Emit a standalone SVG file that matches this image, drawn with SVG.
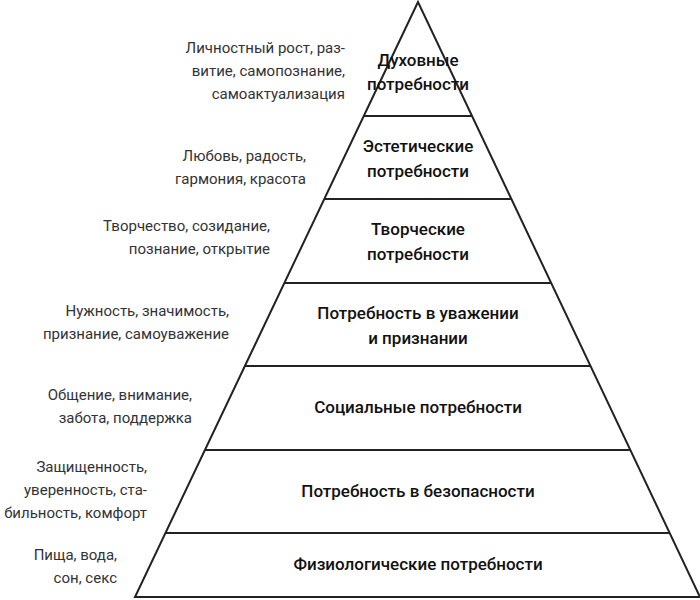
<svg xmlns="http://www.w3.org/2000/svg" width="700" height="600" viewBox="0 0 700 600">
<style>
.l{stroke:#222;stroke-width:2;fill:none}
.t{font-family:Roboto,"Noto Sans",sans-serif;font-size:17px;font-weight:500;fill:#111;text-anchor:middle}
.s{font-family:Roboto,"Noto Sans",sans-serif;font-size:15px;fill:#333;text-anchor:end}
</style>
<rect width="700" height="600" fill="#fff"/>
<g id="connectors">
<polygon class="l" points="418,2 135,597 700,597"/>
<line class="l" x1="364" y1="116" x2="472" y2="116"/>
<line class="l" x1="324" y1="199" x2="511" y2="199"/>
<line class="l" x1="284" y1="283" x2="551" y2="283"/>
<line class="l" x1="245" y1="366" x2="590" y2="366"/>
<line class="l" x1="205" y1="450" x2="630" y2="450"/>
<line class="l" x1="166" y1="533" x2="669" y2="533"/>
</g>
<g id="n1"><text class="t" x="418" y="66">Духовные</text><text class="t" x="418" y="90">потребности</text>
<text class="s" x="345" y="53">Личностный рост, раз-</text><text class="s" x="345" y="76">витие, самопознание,</text><text class="s" x="345" y="99">самоактуализация</text></g>
<g id="n2"><text class="t" x="418" y="152">Эстетические</text><text class="t" x="418" y="177">потребности</text>
<text class="s" x="306" y="161">Любовь, радость,</text><text class="s" x="306" y="184">гармония, красота</text></g>
<g id="n3"><text class="t" x="418" y="235">Творческие</text><text class="t" x="418" y="260">потребности</text>
<text class="s" x="270" y="231">Творчество, созидание,</text><text class="s" x="270" y="254">познание, открытие</text></g>
<g id="n4"><text class="t" x="418" y="319">Потребность в уважении</text><text class="t" x="418" y="344">и признании</text>
<text class="s" x="229" y="316">Нужность, значимость,</text><text class="s" x="229" y="339">признание, самоуважение</text></g>
<g id="n5"><text class="t" x="418" y="413">Социальные потребности</text>
<text class="s" x="192" y="400">Общение, внимание,</text><text class="s" x="192" y="423">забота, поддержка</text></g>
<g id="n6"><text class="t" x="418" y="497">Потребность в безопасности</text>
<text class="s" x="147" y="472">Защищенность,</text><text class="s" x="147" y="495">уверенность, ста-</text><text class="s" x="147" y="518">бильность, комфорт</text></g>
<g id="n7"><text class="t" x="418" y="570">Физиологические потребности</text>
<text class="s" x="117" y="560">Пища, вода,</text><text class="s" x="117" y="583">сон, секс</text></g>
</svg>
